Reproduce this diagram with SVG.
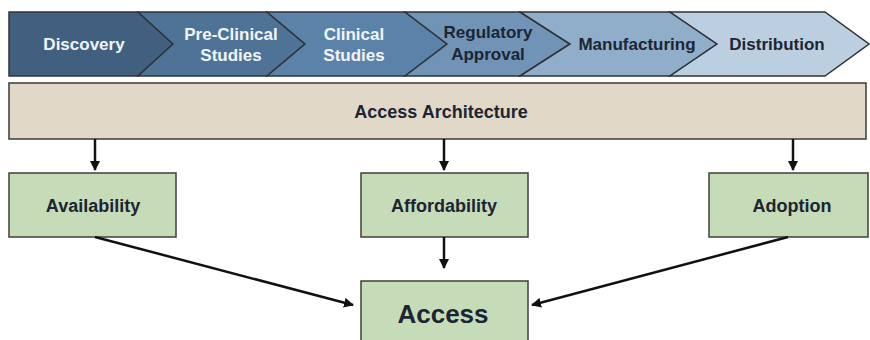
<svg xmlns="http://www.w3.org/2000/svg" width="870" height="340" viewBox="0 0 870 340">
  <defs>
    <style>
      .stage { stroke: #2e3338; stroke-width: 1.5; stroke-linejoin: miter; }
      .box { fill: #c6dcb9; stroke: #3c4238; stroke-width: 1.5; }
      .band { fill: #e2d8c8; stroke: #3c3a36; stroke-width: 1.5; }
      .lbl { font-family: "Liberation Sans", Arial, sans-serif; font-weight: bold; font-size: 18px; text-anchor: middle; }
      .step { font-size: 17px; }
      .light { fill: #f2f5f8; }
      .dark { fill: #1c2533; }
      .edge { stroke: #111; stroke-width: 2.5; fill: none; marker-end: url(#arrow); }
    </style>
    <marker id="arrow" viewBox="0 0 10 10" refX="9" refY="5" markerWidth="4" markerHeight="4" orient="auto" markerUnits="strokeWidth">
      <path d="M0,0 L10,5 L0,10 Z" fill="#111"/>
    </marker>
  </defs>

  <rect width="870" height="340" fill="#ffffff"/>

  <!-- pipeline stages -->
  <g id="discovery">
    <polygon class="stage" fill="#41607f" points="9,12 138,12 173,44 138,76 9,76"/>
    <text class="lbl step light" x="84" y="50">Discovery</text>
  </g>
  <g id="preclinical">
    <polygon class="stage" fill="#4f7396" points="138,12 267,12 305,44 267,76 138,76 173,44"/>
    <text class="lbl step light" x="231" y="40">Pre-Clinical</text>
    <text class="lbl step light" x="231" y="61">Studies</text>
  </g>
  <g id="clinical">
    <polygon class="stage" fill="#5b83a9" points="267,12 405,12 447,44 405,76 267,76 305,44"/>
    <text class="lbl step light" x="354" y="40">Clinical</text>
    <text class="lbl step light" x="354" y="61">Studies</text>
  </g>
  <g id="regulatory">
    <polygon class="stage" fill="#7194b6" points="405,12 520,12 570,44 520,76 405,76 447,44"/>
    <text class="lbl step dark" x="488" y="38">Regulatory</text>
    <text class="lbl step dark" x="488" y="60">Approval</text>
  </g>
  <g id="manufacturing">
    <polygon class="stage" fill="#90adc9" points="520,12 670,12 717,44 670,76 520,76 570,44"/>
    <text class="lbl step dark" x="637" y="50">Manufacturing</text>
  </g>
  <g id="distribution">
    <polygon class="stage" fill="#bccfe1" points="670,12 825,12 869,44 825,76 670,76 717,44"/>
    <text class="lbl step dark" x="777" y="50">Distribution</text>
  </g>

  <!-- access architecture band -->
  <g id="architecture">
    <rect class="band" x="9" y="83" width="857" height="56"/>
    <text class="lbl dark" x="441" y="118">Access Architecture</text>
  </g>

  <!-- pillars -->
  <g id="availability">
    <rect class="box" x="9" y="173" width="167" height="64"/>
    <text class="lbl dark" x="93" y="212">Availability</text>
  </g>
  <g id="affordability">
    <rect class="box" x="361" y="173" width="167" height="64"/>
    <text class="lbl dark" x="444" y="212">Affordability</text>
  </g>
  <g id="adoption">
    <rect class="box" x="709" y="173" width="159" height="64"/>
    <text class="lbl dark" x="792" y="212">Adoption</text>
  </g>

  <!-- outcome -->
  <g id="access">
    <rect class="box" x="361" y="281" width="167" height="62"/>
    <text class="lbl dark" x="443" y="323" style="font-size:26px">Access</text>
  </g>

  <!-- connectors -->
  <g id="connectors">
    <line class="edge" x1="95" y1="139" x2="95" y2="170"/>
    <line class="edge" x1="444" y1="139" x2="444" y2="170"/>
    <line class="edge" x1="793" y1="139" x2="793" y2="170"/>
    <line class="edge" x1="444" y1="237" x2="444" y2="268"/>
    <line class="edge" x1="95" y1="237" x2="353" y2="305"/>
    <line class="edge" x1="788" y1="237" x2="532" y2="305"/>
  </g>
</svg>
